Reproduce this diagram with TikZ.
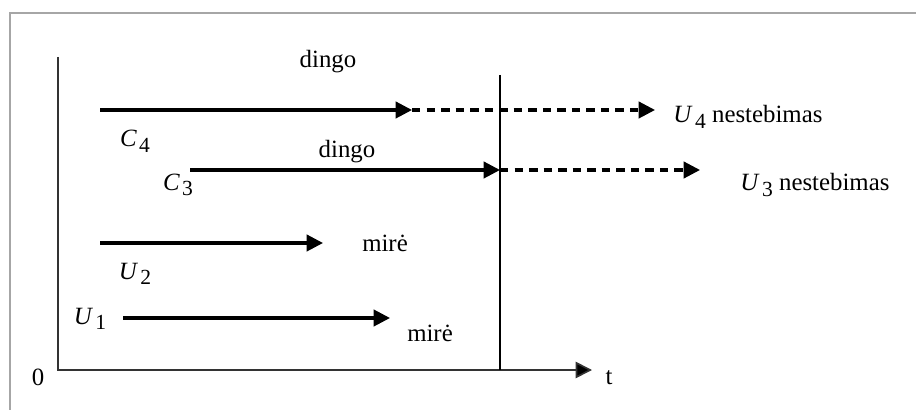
\documentclass[tikz,border=0pt]{standalone}
\usepackage{fontspec}
\setmainfont{Liberation Serif}
\usetikzlibrary{arrows.meta}
\newcommand{\sublab}[2]{\textit{#1}\kern1pt\raisebox{-0.5ex}{\fontsize{9.2}{11}\selectfont #2}}
\begin{document}
\begin{tikzpicture}[x=0.015cm,y=-0.015cm,
  life/.style={line width=1.3pt,-{Triangle[length=7pt,width=7pt]}},
  lost/.style={life,dash pattern=on 3.6pt off 2.6pt},
  lbl/.style={inner sep=0pt,font=\fontsize{10.6}{13}\selectfont}]
\useasboundingbox (0,0) rectangle (916,410);
\draw[gray!70,line width=0.9pt] (10,410) -- (10,13) -- (916,13);
% axes
\coordinate (o) at (58,370);
\coordinate (ytop) at (58,57);
\coordinate (xend) at (592,370);
\coordinate (cuttop) at (500,75);
\coordinate (cutbot) at (500,370);
\draw[line width=0.7pt,black!80,-{Triangle[length=7pt,width=7pt,fill=black]}] (ytop) -- (o) -- (xend);
\draw[line width=0.6pt] (cuttop) -- (cutbot);
\node[lbl] (zero) at (38,377) {0};
\node[lbl] (t) at (609,378) {t};
% C4
\coordinate (c4s) at (100,110);
\coordinate (c4m) at (412,110);
\coordinate (c4e) at (655,110);
\draw[life] (c4s) -- (c4m);
\draw[lost] (c4m) -- (c4e);
\node[lbl] (dingoA) at (328,62) {dingo};
\node[lbl] (C4) at (135,141) {\sublab{C}{4}};
\node[lbl,anchor=west] (U4) at (673,117) {\sublab{U}{4} nestebimas};
% C3
\coordinate (c3s) at (190,170);
\coordinate (c3m) at (500,170);
\coordinate (c3e) at (700,170);
\draw[life] (c3s) -- (c3m);
\draw[lost] (c3m) -- (c3e);
\node[lbl] (dingoB) at (347,152) {dingo};
\node[lbl] (C3) at (178,185) {\sublab{C}{3}};
\node[lbl,anchor=west] (U3) at (740,185) {\sublab{U}{3} nestebimas};
% U2
\coordinate (u2s) at (100,243);
\coordinate (u2e) at (323,243);
\draw[life] (u2s) -- (u2e);
\node[lbl] (mireA) at (385,243) {mirė};
\node[lbl] (U2) at (135,274) {\sublab{U}{2}};
% U1
\coordinate (u1s) at (123,318);
\coordinate (u1e) at (390,318);
\draw[life] (u1s) -- (u1e);
\node[lbl] (U1) at (90,319) {\sublab{U}{1}};
\node[lbl] (mireB) at (430,333) {mirė};
\end{tikzpicture}
\end{document}
